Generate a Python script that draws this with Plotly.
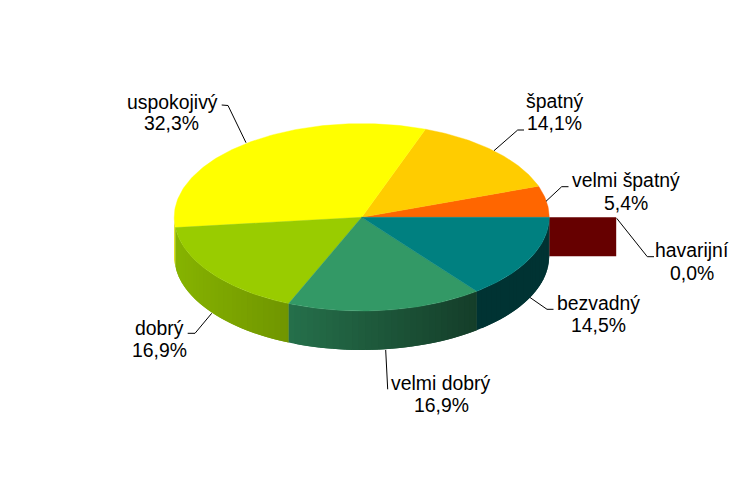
import math
import plotly.graph_objects as go

# Data, in drawing order (counter-clockwise from 3 o'clock)
categories = ["velmi špatný", "špatný", "uspokojivý", "dobrý", "velmi dobrý", "bezvadný", "havarijní"]
values = [5.4, 14.1, 32.3, 16.9, 16.9, 14.5, 0.0]
colors = ["#FF6600", "#FFCC00", "#FFFF00", "#99CC00", "#339966", "#008080", "#660000"]

# Geometry of the tilted pie, in pixels
CX, CY, RX, RY, DEPTH = 361.7, 217.3, 187.5, 93.7, 39
ZERO_SLICE_WIDTH = 67
FONT = "Liberation Sans, Arial, sans-serif"
FONT_SIZE = 19.4

# Label line centres and leader polylines, per category
label_pos = {
    "velmi špatný": ((625.5, 180), (625.5, 203)),
    "špatný": ((554.5, 101), (554.5, 123)),
    "uspokojivý": ((172, 102), (171.5, 123)),
    "dobrý": ((159.5, 328), (159.5, 350)),
    "velmi dobrý": ((440.5, 383), (441, 405)),
    "bezvadný": ((598, 303), (598, 325)),
    "havarijní": ((692, 250), (692, 273)),
}
leaders = {
    "velmi špatný": [(568.5, 186.7), (561.7, 186.7), (546, 201.3)],
    "špatný": [(524, 130), (517.7, 130), (494, 150.7)],
    "uspokojivý": [(221.7, 105), (228, 105.5), (246, 142.7)],
    "dobrý": [(187.7, 333.3), (195, 333.3), (211.7, 313.3)],
    "velmi dobrý": [(387.7, 389.3), (385.7, 350)],
    "bezvadný": [(553.5, 309.3), (547, 309.3), (530, 297.5)],
    "havarijní": [(654, 256.7), (647.3, 256.7), (616.7, 218.3)],
}


def pt(deg, dy=0.0):
    a = math.radians(deg)
    return CX + RX * math.cos(a), CY - RY * math.sin(a) + dy


def arc(a0, a1, dy=0.0):
    n = max(2, int(abs(a1 - a0)) + 2)
    return [pt(a0 + (a1 - a0) * i / (n - 1), dy) for i in range(n)]


def shade_factor(x):
    stops = [(174, 0.88), (289, 0.73), (477, 0.40), (549, 0.40)]
    for (x0, f0), (x1, f1) in zip(stops, stops[1:]):
        if x <= x1:
            return f0 + (f1 - f0) * max(0.0, x - x0) / (x1 - x0)
    return stops[-1][1]


def shaded(hex_color, x):
    f = shade_factor(x)
    r, g, b = (int(hex_color[i:i + 2], 16) for i in (1, 3, 5))
    return f"rgb({r * f:.0f},{g * f:.0f},{b * f:.0f})"


def poly(points, color, width=0.0):
    xs = [p[0] for p in points] + [points[0][0]]
    ys = [p[1] for p in points] + [points[0][1]]
    return go.Scatter(x=xs, y=ys, mode="lines", fill="toself", fillcolor=color,
                      line=dict(color=color, width=width), hoverinfo="skip", showlegend=False)


total = sum(values)
spans = {}
cum = 0.0
for c, v in zip(categories, values):
    spans[c] = (cum / total * 360, (cum + v) / total * 360)
    cum += v

fig = go.Figure()

# Zero-value slice: only its exposed wall remains visible
zero_color = colors[categories.index("havarijní")]
x0 = CX + RX
fig.add_trace(poly([(x0, CY), (x0 + ZERO_SLICE_WIDTH, CY),
                    (x0 + ZERO_SLICE_WIDTH, CY + DEPTH), (x0, CY + DEPTH)], zero_color))

# Side wall, split into overlapping strips for the shading (no seams)
STEP = 2.0
for c, col in zip(categories, colors):
    a0, a1 = spans[c]
    a0, a1 = max(a0, 180.0), min(a1, 360.0)
    a = a0
    while a < a1 - 1e-9:
        b = min(a + STEP, a1)
        b_over = min(a + 2 * STEP, a1)
        top = arc(a, b_over)
        bottom = arc(b_over, a, DEPTH)
        xm = (pt(a)[0] + pt(b)[0]) / 2
        fig.add_trace(poly(top + bottom, shaded(col, xm)))
        a = b

# Top face
for c, col, v in zip(categories, colors, values):
    if v <= 0:
        continue
    a0, a1 = spans[c]
    fig.add_trace(poly([(CX, CY)] + arc(a0, a1), col, 0.4))

# Leader lines
for c in categories:
    pts = leaders[c]
    fig.add_trace(go.Scatter(x=[p[0] for p in pts], y=[p[1] for p in pts], mode="lines",
                             line=dict(color="#000000", width=1), hoverinfo="skip", showlegend=False))

# Labels
annotations = []
for c, v in zip(categories, values):
    (x1, y1), (x2, y2) = label_pos[c]
    pct = f"{v:.1f}".replace(".", ",") + "%"
    for txt, x, y in ((c, x1, y1), (pct, x2, y2)):
        annotations.append(dict(x=x, y=y, xref="x", yref="y", text=txt, showarrow=False,
                                xanchor="center", yanchor="middle",
                                font=dict(family=FONT, size=FONT_SIZE, color="#000000")))

fig.update_layout(
    width=755, height=483, margin=dict(l=0, r=0, t=0, b=0),
    paper_bgcolor="#FFFFFF", plot_bgcolor="#FFFFFF", showlegend=False,
    xaxis=dict(range=[0, 755], visible=False, fixedrange=True),
    yaxis=dict(range=[483, 0], visible=False, fixedrange=True),
    annotations=annotations,
)
fig.write_html("out.html", config={"displayModeBar": False},
               post_script="document.body.style.margin='0';document.body.style.overflow='hidden';")
